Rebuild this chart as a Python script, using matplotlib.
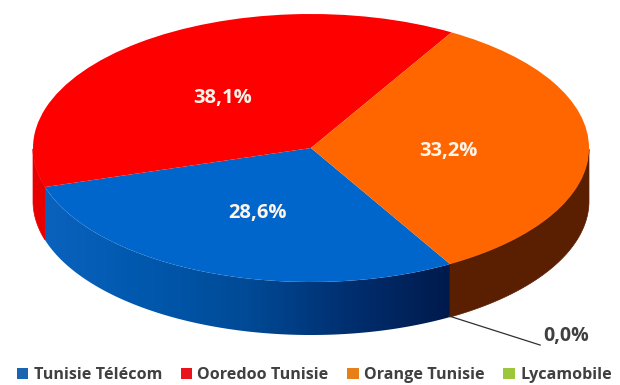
import numpy as np
import matplotlib
matplotlib.use('Agg')
import matplotlib.pyplot as plt
from matplotlib.colors import LinearSegmentedColormap
from matplotlib.patches import Patch, PathPatch
from matplotlib.path import Path

operators = ['Tunisie Télécom', 'Ooredoo Tunisie', 'Orange Tunisie', 'Lycamobile']
shares = [28.6, 38.1, 33.2, 0.0]

top_colors = ['#0066cc', '#ff0000', '#ff6600', '#8fc31f']
side_colors = ['#0055aa', '#e80000', '#5a1e00', '#6f9a18']
legend_colors = ['#1b64b0', '#e8131b', '#e8801a', '#9cc63c']

W, H = 620, 385
CX, CY = 311, 148
RX, RY = 278, 134
DEPTH = 53 / RY

plt.rcParams['font.family'] = 'Open Sans'

fig = plt.figure(figsize=(W / 100, H / 100), dpi=100)
ax = fig.add_axes([0, 0, 1, 1])


def fmt(pct):
    return f'{pct:.1f}'.replace('.', ',') + '%'


wedges, texts, autotexts = ax.pie(
    shares, colors=top_colors, startangle=-60, counterclock=False,
    autopct=fmt, pctdistance=0.5, radius=1,
    textprops={'color': '#fff4ea', 'fontsize': 14.5, 'fontweight': 'bold'},
    wedgeprops={'zorder': 3})
for t in autotexts:
    t.set_zorder(5)
    # labels sit a little lower and to the left of the slice middle
    x, y = t.get_position()
    t.set_position((x - 2 / RX, y - 3 / RY))
autotexts[3].set_visible(False)

ax.set_aspect('auto')

# side wall, only the part facing the viewer
blue_grad = LinearSegmentedColormap.from_list(
    'blue_side', ['#0a62bd', '#0058ad', '#004a96', '#002f70', '#001a4c'])
for w, col, share in zip(wedges, side_colors, shares):
    if share == 0:
        continue
    a1, a2 = w.theta1 % 360, w.theta2 % 360
    if a2 <= a1:
        a2 += 360
    t = np.radians(np.linspace(a1, a2, 200))
    # keep lower half only
    t = t[np.sin(t) <= 0.001]
    if len(t) < 2:
        continue
    xs = np.cos(t)
    ys = np.sin(t)
    verts = np.r_[np.c_[xs, ys], np.c_[xs[::-1], ys[::-1] - DEPTH]]
    path = Path(np.r_[verts, verts[:1]], closed=True)
    if w is wedges[0]:
        img = ax.imshow(np.linspace(0, 1, 256)[None, :], cmap=blue_grad, aspect='auto',
                        extent=(xs.min(), xs.max(), -1 - DEPTH, 0), zorder=2)
        clip = PathPatch(path, transform=ax.transData, fc='none', ec='none')
        ax.add_patch(clip)
        img.set_clip_path(clip)
    else:
        ax.add_patch(PathPatch(path, fc=col, ec=col, lw=0.5, zorder=2))

ax.set_xlim(-CX / RX, (W - CX) / RX)
ax.set_ylim(-(H - CY) / RY, CY / RY)
ax.axis('off')

# leader line of the empty Lycamobile slice
ax.annotate(fmt(shares[3]), xy=((449 - CX) / RX, (CY - 316) / RY),
            xytext=((566 - CX) / RX, (CY - 336) / RY),
            ha='center', va='center', fontsize=14, fontweight='bold', color='#404040',
            arrowprops=dict(arrowstyle='-', color='#303030', lw=0.9,
                            relpos=(0, 0), shrinkA=0, shrinkB=0), zorder=5)

handles = [Patch(fc=c, ec='none') for c in legend_colors]
ax.legend(handles, operators, loc='lower center', bbox_to_anchor=(0.507, 0.0), ncols=4,
          frameon=False, handlelength=0.7, handleheight=0.7, borderaxespad=0, borderpad=0.1,
          handletextpad=0.35, columnspacing=1.15,
          prop={'family': 'Open Sans', 'weight': 'bold', 'size': 11.6},
          labelcolor='#404040')

fig.savefig('out.png', dpi=100)
